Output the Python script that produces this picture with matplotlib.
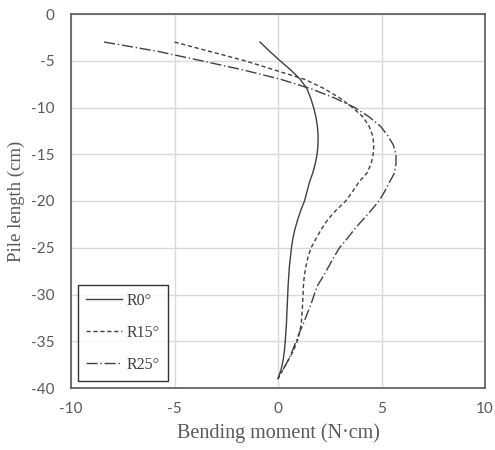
import matplotlib
matplotlib.use("Agg")
import matplotlib.pyplot as plt

plt.rcParams["axes.unicode_minus"] = False

depth = [-3, -4, -5, -6, -7, -8, -9, -10, -11, -12, -13, -14, -15, -16, -17, -18, -19, -20,
         -21, -22, -23, -24, -25, -26, -27, -28, -29, -30, -31, -32, -33, -34, -35, -36, -37, -38, -39]

r0 = [-0.87, -0.4, 0.1, 0.62, 1.08, 1.4, 1.58, 1.72, 1.83, 1.9, 1.94, 1.93, 1.89, 1.8, 1.68, 1.52, 1.4, 1.28,
      1.1, 0.95, 0.82, 0.72, 0.65, 0.6, 0.55, 0.52, 0.49, 0.47, 0.45, 0.43, 0.41, 0.38, 0.35, 0.31, 0.25, 0.15, 0.0]
r15 = [-5.0, -3.3, -1.6, -0.15, 1.3, 2.25, 3.0, 3.6, 4.1, 4.4, 4.57, 4.63, 4.6, 4.5, 4.3, 3.9, 3.6, 3.27,
       2.8, 2.4, 2.1, 1.84, 1.6, 1.45, 1.35, 1.27, 1.23, 1.21, 1.19, 1.16, 1.13, 1.05, 0.93, 0.75, 0.5, 0.25, 0.0]
r25 = [-8.4, -5.8, -3.7, -1.65, 0.15, 1.6, 2.75, 3.7, 4.4, 4.95, 5.3, 5.57, 5.7, 5.7, 5.63, 5.38, 5.15, 4.87,
       4.5, 4.1, 3.7, 3.35, 2.97, 2.7, 2.45, 2.2, 1.92, 1.75, 1.6, 1.42, 1.25, 1.05, 0.87, 0.7, 0.5, 0.25, 0.0]

labels = ["R0°", "R15°", "R25°"]

fig = plt.figure(figsize=(4.95, 4.5), dpi=100)
ax = fig.add_axes([71/495, 1-388/450, (485-71)/495, (388-14)/450])

lc = "#404040"
ax.plot(r0, depth, color=lc, lw=1.0, ls="-", label=labels[0])
ax.plot(r15, depth, color=lc, lw=1.0, ls=(0, (3, 2)), label=labels[1])
ax.plot(r25, depth, color=lc, lw=1.0, ls=(0, (8, 2, 1, 2)), label=labels[2])

ax.set_xlim(-10, 10)
ax.set_ylim(-40, 0)
ax.set_xticks([-10, -5, 0, 5, 10])
ax.set_yticks(range(-40, 1, 5))
ax.grid(True, color="#d9d9d9", lw=1.0)
ax.set_axisbelow(True)
for s in ax.spines.values():
    s.set_color("#595959")
    s.set_linewidth(1.2)
ax.tick_params(axis="both", length=0, labelsize=11, colors="#595959")
ax.tick_params(axis="y", pad=12)
ax.tick_params(axis="x", pad=10)
for t in ax.get_xticklabels() + ax.get_yticklabels():
    t.set_fontfamily("Lato")

ax.set_xlabel("Bending moment (N·cm)", family="Liberation Serif", fontsize=14.5, color="#595959", labelpad=5)
ax.set_ylabel("Pile length (cm)", family="Liberation Serif", fontsize=13.5, color="#595959", labelpad=4)

leg = ax.legend(loc="lower left", bbox_to_anchor=(7/414, 7/374), prop={"family": "Liberation Serif", "size": 11.5},
                frameon=True, fancybox=False, edgecolor="black", handlelength=2.25, handletextpad=0.3,
                labelspacing=1.0, borderpad=0.5, borderaxespad=0)
leg.get_frame().set_linewidth(1.0)
for t in leg.get_texts():
    t.set_color("#404040")

fig.savefig("out.png", dpi=100)
